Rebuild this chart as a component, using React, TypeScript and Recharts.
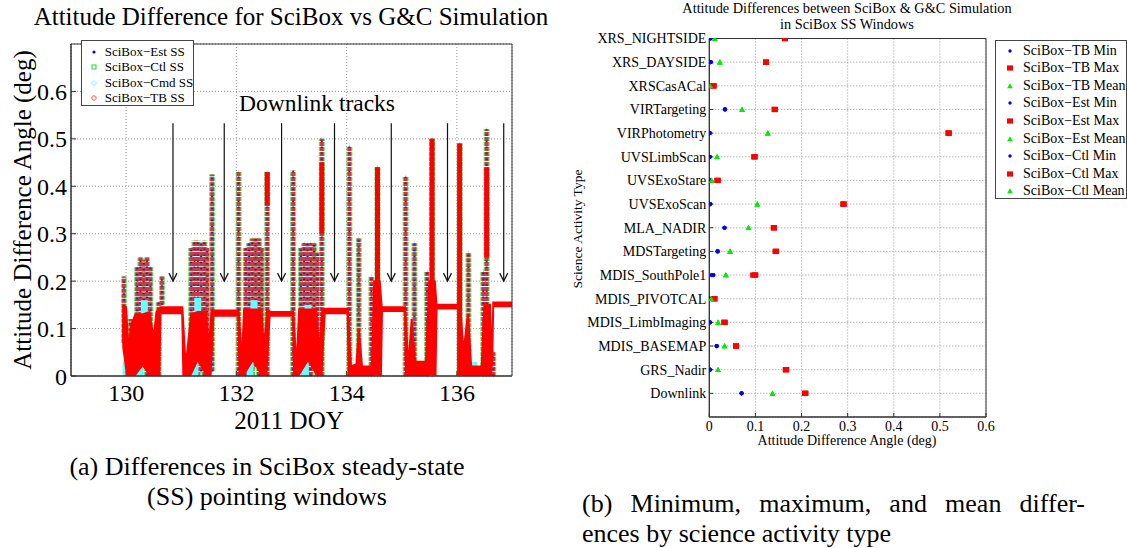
import React from 'react';
import {
  ComposedChart,
  ScatterChart,
  Scatter,
  Area,
  XAxis,
  YAxis,
  CartesianGrid,
  ErrorBar,
  ReferenceLine,
  ReferenceArea,
} from 'recharts';

const SERIF = "'Liberation Serif', 'DejaVu Serif', 'Times New Roman', serif";

// ===== (a) attitude difference vs DOY =====
const doyTicks = [130, 132, 134, 136];
const angleTicks = [0, 0.1, 0.2, 0.3, 0.4, 0.5, 0.6];

// red TB band: [doy, low, high]
const tbBand: [number, number, number][] = [
  [129.93, 0.06, 0.145], [130.0, 0.0, 0.145], [130.04, 0.0, 0.06], [130.1, 0.0, 0.11],
  [130.17, 0.0, 0.13], [130.3, 0.02, 0.13], [130.42, 0.0, 0.135], [130.5, 0.0, 0.08],
  [130.55, 0.0, 0.135], [130.62, 0.0, 0.145], [130.64, 0.13, 0.145], [131.0, 0.13, 0.145],
  [131.02, 0.0, 0.145], [131.08, 0.0, 0.02], [131.18, 0.0, 0.13], [131.3, 0.03, 0.135], [131.45, 0.0, 0.135],
  [131.5, 0.0, 0.06], [131.55, 0.0, 0.135], [131.6, 0.125, 0.138], [132.02, 0.125, 0.138],
  [132.04, 0.0, 0.138], [132.1, 0.0, 0.03], [132.14, 0.0, 0.14], [132.3, 0.03, 0.14], [132.45, 0.0, 0.14],
  [132.5, 0.0, 0.06], [132.56, 0.0, 0.14], [132.62, 0.125, 0.135], [133.01, 0.125, 0.135],
  [133.03, 0.0, 0.135], [133.09, 0.0, 0.02], [133.14, 0.0, 0.14], [133.3, 0.03, 0.14], [133.45, 0.0, 0.14],
  [133.5, 0.0, 0.05], [133.56, 0.0, 0.14], [133.62, 0.13, 0.142], [134.0, 0.13, 0.142],
  [134.02, 0.0, 0.142], [134.08, 0.0, 0.02], [134.18, 0.0, 0.025], [134.22, 0.0, 0.1],
  [134.28, 0.0, 0.02], [134.46, 0.0, 0.02], [134.5, 0.0, 0.2], [134.6, 0.0, 0.2],
  [134.64, 0.0, 0.14], [134.66, 0.135, 0.145], [135.04, 0.135, 0.145], [135.06, 0.0, 0.145],
  [135.12, 0.0, 0.02], [135.18, 0.0, 0.12], [135.24, 0.0, 0.03], [135.44, 0.0, 0.03],
  [135.5, 0.0, 0.2], [135.6, 0.0, 0.2], [135.63, 0.0, 0.15], [135.65, 0.14, 0.15],
  [136.04, 0.14, 0.15], [136.06, 0.0, 0.15], [136.12, 0.0, 0.05], [136.2, 0.0, 0.13],
  [136.26, 0.0, 0.02], [136.45, 0.0, 0.02], [136.5, 0.0, 0.15], [136.6, 0.0, 0.15],
  [136.64, 0.0, 0.02], [136.66, 0.145, 0.155], [137.0, 0.145, 0.155],
];

// overlapping Est / Ctl / TB marker columns: [doy, low, high]
const ssSpikes: [number, number, number][] = [
  [129.96, 0.07, 0.21], [130.08, 0.02, 0.12], [130.2, 0.01, 0.23], [130.26, 0.0, 0.25],
  [130.32, 0.02, 0.245], [130.38, 0.0, 0.25], [130.44, 0.01, 0.23], [130.59, 0.0, 0.155],
  [130.65, 0.15, 0.21], [131.18, 0.01, 0.27], [131.24, 0.0, 0.285], [131.3, 0.0, 0.285],
  [131.36, 0.01, 0.28], [131.42, 0.0, 0.285], [131.47, 0.02, 0.27], [131.56, 0.01, 0.425],
  [132.04, 0.0, 0.43], [132.17, 0.0, 0.27], [132.23, 0.01, 0.28], [132.29, 0.0, 0.29],
  [132.35, 0.02, 0.29], [132.41, 0.0, 0.29], [132.46, 0.02, 0.27], [132.56, 0.0, 0.43],
  [133.03, 0.0, 0.433], [133.17, 0.01, 0.27], [133.23, 0.0, 0.28], [133.29, 0.01, 0.28],
  [133.35, 0.0, 0.28], [133.41, 0.02, 0.28], [133.47, 0.0, 0.26], [133.55, 0.0, 0.5],
  [134.05, 0.0, 0.485], [134.22, 0.03, 0.29], [134.45, 0.0, 0.21], [134.56, 0.0, 0.44],
  [135.07, 0.0, 0.42], [135.23, 0.01, 0.28], [135.46, 0.0, 0.22], [135.55, 0.0, 0.5],
  [136.05, 0.0, 0.49], [136.21, 0.05, 0.26], [136.48, 0.0, 0.22], [136.54, 0.0, 0.52],
  [136.66, 0.0, 0.05],
];

// solid red TB columns
const tbSpikes: [number, number, number][] = [
  [132.56, 0.36, 0.43], [133.55, 0.3, 0.45], [134.56, 0.0, 0.44],
  [135.55, 0.0, 0.5], [136.05, 0.0, 0.49], [136.54, 0.25, 0.44],
];

// cyan Cmd patches
const cmdPatches: [number, number, number][] = [
  [130.0, 0.0, 0.03], [130.24, 0.0, 0.05], [130.33, 0.09, 0.16], [131.25, 0.0, 0.03],
  [131.3, 0.1, 0.165], [132.25, 0.0, 0.03], [132.32, 0.1, 0.16], [133.25, 0.0, 0.03],
  [133.3, 0.1, 0.15], [134.25, 0.0, 0.02], [135.3, 0.0, 0.02], [136.3, 0.0, 0.03],
];

const downlinkDoy = [130.85, 131.78, 132.82, 133.78, 134.81, 135.83, 136.85];
const arrowTop = 0.533;
const arrowTip = 0.2;

// ===== (b) min / max / mean by activity =====
const activities = [
  'XRS_NIGHTSIDE', 'XRS_DAYSIDE', 'XRSCasACal', 'VIRTargeting', 'VIRPhotometry',
  'UVSLimbScan', 'UVSExoStare', 'UVSExoScan', 'MLA_NADIR', 'MDSTargeting',
  'MDIS_SouthPole1', 'MDIS_PIVOTCAL', 'MDIS_LimbImaging', 'MDIS_BASEMAP', 'GRS_Nadir', 'Downlink',
];
const tbMin = [0.002, 0.003, 0.0, 0.034, 0.001, 0.001, 0.0, 0.002, 0.033, 0.018, 0.005, 0.0, 0.001, 0.016, 0.001, 0.070];
const tbMax = [0.164, 0.123, 0.009, 0.142, 0.519, 0.098, 0.018, 0.291, 0.140, 0.144, 0.095, 0.011, 0.033, 0.058, 0.166, 0.208];
const tbMean = [0.012, 0.023, 0.002, 0.071, 0.127, 0.017, 0.004, 0.104, 0.085, 0.045, 0.036, 0.003, 0.019, 0.033, 0.019, 0.137];
const estMin = [0.002, 0.003, 0.0, 0.034, 0.001, 0.001, 0.0, 0.002, 0.033, 0.018, 0.009, 0.0, 0.001, 0.016, 0.001, 0.070];
const estMax = [0.164, 0.123, 0.009, 0.142, 0.519, 0.098, 0.018, 0.291, 0.140, 0.145, 0.100, 0.011, 0.033, 0.058, 0.167, 0.208];
const estMean = [0.012, 0.023, 0.002, 0.071, 0.127, 0.017, 0.005, 0.104, 0.085, 0.045, 0.036, 0.004, 0.019, 0.033, 0.019, 0.137];
const ctlMin = [0.002, 0.003, 0.0, 0.034, 0.001, 0.001, 0.0, 0.002, 0.033, 0.018, 0.008, 0.0, 0.001, 0.016, 0.001, 0.070];
const ctlMax = [0.164, 0.123, 0.009, 0.142, 0.519, 0.098, 0.018, 0.291, 0.140, 0.144, 0.099, 0.011, 0.033, 0.058, 0.166, 0.208];
const ctlMean = [0.012, 0.023, 0.002, 0.071, 0.127, 0.017, 0.005, 0.104, 0.085, 0.045, 0.036, 0.004, 0.019, 0.033, 0.019, 0.137];
const angleTicksB = [0, 0.1, 0.2, 0.3, 0.4, 0.5, 0.6];

const toCols = (rows: [number, number, number][]) =>
  rows.map(([x, lo, hi]) => ({ x, y: lo, err: [0, hi - lo] }));
const toPts = (vals: number[]) =>
  vals.map((v, i) => ({ x: v, y: activities.length - i }));

const Hidden = () => <g />;

const ArrowShape = (p: any) => {
  const { x1, y1, x2, y2 } = p;
  return (
    <g>
      <line x1={x1} y1={y1} x2={x2} y2={y2} stroke="#111" strokeWidth={1.2} />
      <polyline
        points={`${x2 - 4},${y2 - 8} ${x2},${y2} ${x2 + 4},${y2 - 8}`}
        fill="none"
        stroke="#111"
        strokeWidth={1.2}
      />
    </g>
  );
};

const MinDot = (p: any) => <circle cx={p.cx} cy={p.cy} r={p.r ?? 2.1} fill="#0000ff" />;
const MaxSquare = (p: any) => <rect x={p.cx - 3} y={p.cy - 2.6} width={6} height={5.2} fill="#ff0000" />;
const MeanTri = (p: any) => (
  <polygon points={`${p.cx - 2.8},${p.cy + 2.3} ${p.cx + 2.8},${p.cy + 2.3} ${p.cx},${p.cy - 2.8}`} fill="#00ee00" />
);

const txt = (left: number, top: number, size: number, s: string, extra: React.CSSProperties = {}) => (
  <div
    style={{
      position: 'absolute',
      left,
      top,
      fontFamily: SERIF,
      fontSize: size,
      lineHeight: 1,
      whiteSpace: 'nowrap',
      color: '#000',
      transform: 'translate(-50%, -50%)',
      ...extra,
    }}
  >
    {s}
  </div>
);

const legendA = [
  { name: 'SciBox−Est SS', mark: <circle cx={5} cy={5} r={1.6} fill="#0000ff" /> },
  { name: 'SciBox−Ctl SS', mark: <rect x={3} y={3} width={4} height={4} fill="none" stroke="#22dd22" strokeWidth={1} /> },
  { name: 'SciBox−Cmd SS', mark: <polygon points="5,2.5 7.5,5 5,7.5 2.5,5" fill="none" stroke="#66ffff" strokeWidth={1} /> },
  { name: 'SciBox−TB SS', mark: <circle cx={5} cy={5} r={2.2} fill="none" stroke="#ff5555" strokeWidth={1} /> },
];

const legendB = [
  ['SciBox−TB Min', 'min'], ['SciBox−TB Max', 'max'], ['SciBox−TB Mean', 'mean'],
  ['SciBox−Est Min', 'min'], ['SciBox−Est Max', 'max'], ['SciBox−Est Mean', 'mean'],
  ['SciBox−Ctl Min', 'min'], ['SciBox−Ctl Max', 'max'], ['SciBox−Ctl Mean', 'mean'],
];

const legendMark = (kind: string) =>
  kind === 'min' ? <MinDot cx={5} cy={5} r={1.7} /> : kind === 'max' ? <MaxSquare cx={5} cy={5} /> : <MeanTri cx={5} cy={5} />;

const tickA = { fontSize: 24, fontFamily: SERIF, fill: '#000' };
const tickB = { fontSize: 14, fontFamily: SERIF, fill: '#000' };
const inTick = { stroke: '#333' };

// shared frame of the left plot, used by the base chart and the red overlay
const chartA = { width: 520, height: 440, margin: { top: 44, right: 8, bottom: 24, left: 0 } };

export default function App() {
  // band drawn as an invisible "lo" area with the red span stacked on it
  const bandData = tbBand.map(([x, lo, hi]) => ({ x, lo, span: hi - lo }));
  const specCols = toCols(ssSpikes);
  const redCols = toCols(tbSpikes);
  const cyanCols = toCols(cmdPatches);

  const xA = (bare: boolean) => (
    <XAxis
      dataKey="x"
      type="number"
      domain={[129, 137]}
      ticks={doyTicks}
      allowDataOverflow
      height={40}
      tick={bare ? false : tickA}
      tickLine={bare ? false : inTick}
      tickSize={-5}
      tickMargin={13}
      axisLine={bare ? false : { stroke: '#333' }}
    />
  );
  const yA = (bare: boolean) => (
    <YAxis
      dataKey="y"
      type="number"
      domain={[0, 0.7]}
      ticks={angleTicks}
      allowDataOverflow
      width={71}
      tick={bare ? false : tickA}
      tickLine={bare ? false : inTick}
      tickSize={-5}
      tickMargin={9}
      axisLine={bare ? false : { stroke: '#333' }}
    />
  );

  return (
    <div
      style={{
        position: 'absolute',
        left: 0,
        top: 0,
        width: 1127,
        height: 548,
        background: '#fff',
        overflow: 'hidden',
      }}
    >
      {/* ===== (a) base: grid, axes, marker columns ===== */}
      <div style={{ position: 'absolute', left: 0, top: 0 }}>
        <ComposedChart {...chartA} data={bandData}>
          <CartesianGrid stroke="#999" strokeDasharray="1 2" />
          {xA(false)}
          {yA(false)}
          <Scatter data={specCols} shape={Hidden} isAnimationActive={false} legendType="none">
            <ErrorBar dataKey="err" direction="y" width={0} stroke="#66e066" strokeWidth={6} strokeDasharray="4 1" isAnimationActive={false} />
            <ErrorBar dataKey="err" direction="y" width={0} stroke="#cc3a3a" strokeWidth={3.8} strokeDasharray="4 1" isAnimationActive={false} />
            <ErrorBar dataKey="err" direction="y" width={0} stroke="#2020dd" strokeWidth={2} strokeDasharray="1.6 4.4" isAnimationActive={false} />
          </Scatter>
          <Scatter data={cyanCols} shape={Hidden} isAnimationActive={false} legendType="none">
            <ErrorBar dataKey="err" direction="y" width={0} stroke="#66ffff" strokeWidth={7} isAnimationActive={false} />
          </Scatter>
        </ComposedChart>
      </div>

      {/* ===== (a) overlay: red TB band, arrows, frame ===== */}
      <div style={{ position: 'absolute', left: 0, top: 0, pointerEvents: 'none' }}>
        <ComposedChart {...chartA} data={bandData}>
          {xA(true)}
          {yA(true)}
          <Area
            dataKey="lo"
            stackId="tb"
            type="linear"
            stroke="none"
            fill="none"
            dot={false}
            activeDot={false}
            isAnimationActive={false}
          />
          <Area
            dataKey="span"
            stackId="tb"
            type="linear"
            stroke="#ff0000"
            strokeWidth={2}
            fill="#ff0000"
            fillOpacity={1}
            dot={false}
            activeDot={false}
            isAnimationActive={false}
          />
          <Scatter data={redCols} shape={Hidden} isAnimationActive={false} legendType="none">
            <ErrorBar dataKey="err" direction="y" width={0} stroke="#ff0000" strokeWidth={5} isAnimationActive={false} />
          </Scatter>
          {downlinkDoy.map((d) => (
            <ReferenceLine
              key={d}
              segment={[{ x: d, y: arrowTop }, { x: d, y: arrowTip }]}
              shape={ArrowShape}
            />
          ))}
          <ReferenceArea x1={129} x2={137} y1={0} y2={0.7} fill="none" stroke="#333" strokeWidth={1} />
        </ComposedChart>
      </div>

      {txt(291, 16, 25, 'Attitude Difference for SciBox vs G&C Simulation')}
      {txt(22, 210, 25, 'Attitude Difference Angle (deg)', { transform: 'translate(-50%, -50%) rotate(-90deg)' })}
      {txt(289, 420, 25, '2011 DOY')}
      {txt(317, 104, 23.5, 'Downlink tracks')}

      <div
        style={{
          position: 'absolute',
          left: 80.7,
          top: 40,
          width: 113,
          height: 66,
          border: '1px solid #444',
          background: '#fff',
          boxSizing: 'border-box',
        }}
      >
        {legendA.map((e, i) => (
          <div key={e.name} style={{ position: 'absolute', left: 7, top: 3 + i * 15.5, height: 15, display: 'flex', alignItems: 'center' }}>
            <svg width={10} height={10}>{e.mark}</svg>
            <span style={{ fontFamily: SERIF, fontSize: 13, marginLeft: 6, whiteSpace: 'nowrap' }}>{e.name}</span>
          </div>
        ))}
      </div>

      {txt(267, 467, 26, '(a) Differences in SciBox steady-state')}
      {txt(267, 497, 26, '(SS) pointing windows')}

      {/* ===== (b) ===== */}
      <div style={{ position: 'absolute', left: 560, top: 0 }}>
        <ScatterChart
          width={440}
          height={450}
          margin={{ top: 38.5, right: 14, bottom: 13, left: 0 }}
        >
          <CartesianGrid stroke="#999" strokeDasharray="1 2" />
          <XAxis
            dataKey="x"
            type="number"
            domain={[0, 0.6]}
            ticks={angleTicksB}
            allowDataOverflow
            height={20}
            tick={tickB}
            tickLine={inTick}
            tickSize={-4}
            tickMargin={8}
            interval={0}
            axisLine={{ stroke: '#333' }}
          />
          <YAxis
            dataKey="y"
            type="number"
            domain={[0, 16]}
            ticks={activities.map((_, i) => activities.length - i)}
            allowDataOverflow
            width={149.3}
            tick={tickB}
            tickLine={inTick}
            tickSize={-4}
            tickMargin={7}
            interval={0}
            tickFormatter={(v: number) => activities[activities.length - v] ?? ''}
            axisLine={{ stroke: '#333' }}
          />
          <Scatter data={toPts(tbMin)} shape={MinDot} isAnimationActive={false} />
          <Scatter data={toPts(tbMax)} shape={MaxSquare} isAnimationActive={false} />
          <Scatter data={toPts(tbMean)} shape={MeanTri} isAnimationActive={false} />
          <Scatter data={toPts(estMin)} shape={MinDot} isAnimationActive={false} />
          <Scatter data={toPts(estMax)} shape={MaxSquare} isAnimationActive={false} />
          <Scatter data={toPts(estMean)} shape={MeanTri} isAnimationActive={false} />
          <Scatter data={toPts(ctlMin)} shape={MinDot} isAnimationActive={false} />
          <Scatter data={toPts(ctlMax)} shape={MaxSquare} isAnimationActive={false} />
          <Scatter data={toPts(ctlMean)} shape={MeanTri} isAnimationActive={false} />
          <ReferenceArea x1={0} x2={0.6} y1={0} y2={16} fill="none" stroke="#333" strokeWidth={1} />
        </ScatterChart>
      </div>

      {txt(847, 8, 14.3, 'Attitude Differences between SciBox & G&C Simulation')}
      {txt(847, 24, 14.3, 'in SciBox SS Windows')}
      {txt(578, 229, 13.5, 'Science Activity Type', { transform: 'translate(-50%, -50%) rotate(-90deg)' })}
      {txt(847, 441, 14, 'Attitude Difference Angle (deg)')}

      <div
        style={{
          position: 'absolute',
          left: 995,
          top: 40,
          width: 132,
          height: 159,
          border: '1px solid #444',
          background: '#fff',
          boxSizing: 'border-box',
        }}
      >
        {legendB.map(([name, kind], i) => (
          <div key={name} style={{ position: 'absolute', left: 9, top: 1 + i * 17.6, height: 17, display: 'flex', alignItems: 'center' }}>
            <svg width={10} height={10}>{legendMark(kind)}</svg>
            <span style={{ fontFamily: SERIF, fontSize: 14, marginLeft: 8, whiteSpace: 'nowrap' }}>{name}</span>
          </div>
        ))}
      </div>

      <div style={{ position: 'absolute', left: 582, top: 489, width: 503, fontFamily: SERIF, fontSize: 26, lineHeight: '30px', textAlign: 'justify', textAlignLast: 'justify', whiteSpace: 'nowrap' }}>
        (b) Minimum, maximum, and mean differ-
      </div>
      <div style={{ position: 'absolute', left: 582, top: 519, fontFamily: SERIF, fontSize: 26, lineHeight: '30px', whiteSpace: 'nowrap' }}>
        ences by science activity type
      </div>
    </div>
  );
}
